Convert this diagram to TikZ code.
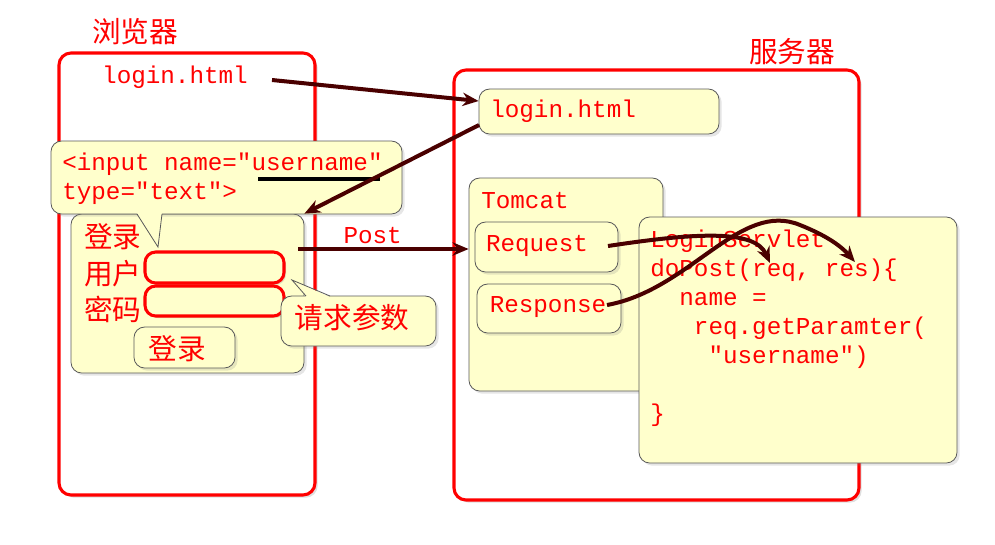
\documentclass[tikz,border=0pt]{standalone}
\usepackage{fontspec}
\setmonofont{Liberation Mono}
\newfontfamily\cjk{Noto Sans CJK SC}
\usetikzlibrary{shadows,fit,positioning,arrows.meta}
\definecolor{noteyellow}{HTML}{FFFFCC}
\definecolor{linkred}{HTML}{4A0000}

\begin{document}
\begin{tikzpicture}[x=0.75pt,y=-0.75pt,
	frame/.style={draw=red, fill=white, line width=2.3pt, rounded corners=9pt, inner sep=0pt,
		drop shadow={opacity=0.25, shadow xshift=2pt, shadow yshift=-2pt}},
	note/.style={draw=black!65, fill=noteyellow, line width=0.6pt, rounded corners=8pt, inner sep=0pt,
		drop shadow={opacity=0.2, shadow xshift=2pt, shadow yshift=-2pt}},
	field/.style={draw=red, fill=noteyellow, line width=2.3pt, rounded corners=8pt, inner sep=0pt,
		drop shadow={opacity=0.25, shadow xshift=1.5pt, shadow yshift=-1.5pt}},
	code/.style={font=\ttfamily\fontsize{18.2}{21.75}\selectfont, text=red, inner sep=0pt},
	zh/.style={font=\cjk\fontsize{21.5}{24}\selectfont, text=red, inner sep=0pt},
	link/.style={draw=linkred, line width=3pt, -{Stealth[length=12pt,width=10pt]}}]
	\useasboundingbox (0,0) rectangle (995,544);

	\node[frame, fit={(59,53) (315,495)}] (browser) {};
	\node[zh] at (135,32) (browsertitle) {浏览器};
	\node[code] at (175,77) (page) {login.html};

	\node[frame, fit={(454,70) (859,500)}] (server) {};
	\node[zh] at (792,52) (servertitle) {服务器};
	\node[note, fit={(479,89) (719,134)}] (file) {};
	\node[code, anchor=west] at (490,111) (filetext) {login.html};

	\node[note, fit={(469,178) (663,391)}] (tomcat) {};
	\node[code, anchor=west] at (481,201) (tomcattext) {Tomcat};
	\node[note, fit={(475,222) (618,272)}] (request) {};
	\node[code] at (537,246) (requesttext) {Request};
	\node[note, fit={(477,284) (621,333)}] (response) {};
	\node[code] at (548,307) (responsetext) {Response};

	\node[note, fit={(639,217) (957,463)}] (servlet) {};
	\node[code, anchor=north west, align=left] at (650,230) (servlettext) {LoginServlet\\doPost(req, res)\{\\\ \ name =\\\ \ \ req.getParamter(\\\ \ \ \ "username")\\[21.75pt]\}};

	\node[note, fit={(71,214) (304,373)}] (form) {};
	\node[zh, anchor=west] at (84,237) (formtitle) {登录};
	\node[zh, below=7pt of formtitle.south west, anchor=north west] (userlabel) {用户};
	\node[zh, below=7pt of userlabel.south west, anchor=north west] (passlabel) {密码};
	\node[field, fit={(145,252) (284,283)}] (userfield) {};
	\node[field, fit={(145,286) (284,316)}] (passfield) {};
	\node[note, fit={(134,327) (235,368)}] (button) {};
	\node[zh] at (177,349) (buttontext) {登录};

	\node[note, fit={(51,141) (402,214)}] (input) {};
	\fill[noteyellow] (137,213) -- (158,247) -- (162,213) -- cycle;
	\draw[black!65, line width=0.6pt] (137,214) -- (158,247) -- (162,214);
	\node[code, anchor=north west, align=left] at (62,153) (inputtext) {<input name="username"\\type="text">};
	\draw[black, line width=2.4pt] (258,179) -- (380,179);

	\node[note, fit={(281,296) (436,346)}] (param) {};
	\fill[noteyellow] (306,297) -- (292,280) -- (330,297) -- cycle;
	\draw[black!65, line width=0.6pt] (306,296) -- (292,280) -- (330,296);
	\node[zh] at (352,318) (paramtext) {请求参数};

	\coordinate (pagetail) at (272,80);
	\coordinate (posttail) at (298,249);
	\coordinate (filetail) at (479,125);
	\coordinate (reqtail) at (608,246);
	\coordinate (restail) at (607,305);
	\coordinate (reqhead) at (770,263);
	\coordinate (reshead) at (855,262);
	\draw[link] (pagetail) -- (file.west |- 0,101);
	\draw[link] (filetail) -- (form.north east);
	\draw[link] (posttail) -- node[code, above=2.5pt, xshift=-8pt] (posttext) {Post} (tomcat.west |- posttail);
	\draw[link] (reqtail) .. controls (700,232) and (755,230) .. (reqhead);
	\draw[link] (restail) .. controls (690,290) and (740,200) .. (800,225) .. controls (825,235) and (840,245) .. (reshead);
\end{tikzpicture}
\end{document}
